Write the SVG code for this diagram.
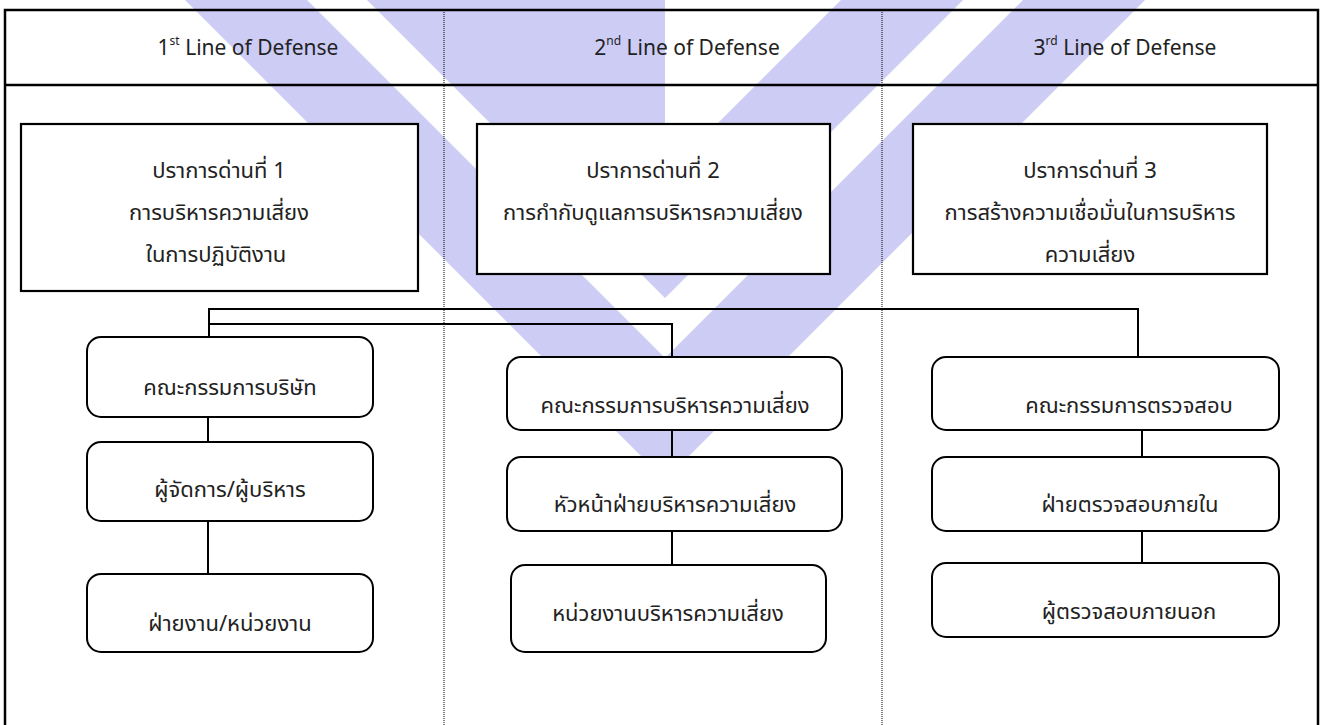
<svg xmlns="http://www.w3.org/2000/svg" width="1322" height="725" viewBox="0 0 1322 725">
<style>
.wm{fill:#CCCCF5;stroke:none}
.frame{fill:none;stroke:#000;stroke-width:2.5}
.div{stroke:#000;stroke-width:1;stroke-dasharray:1,1;fill:none}
.box{fill:#fff;stroke:#000;stroke-width:2.2}
.rbox{fill:#fff;stroke:#000;stroke-width:2}
.conn{fill:none;stroke:#000;stroke-width:2}
.hd{font-family:"Noto Sans","Open Sans",sans-serif;font-size:21px;fill:#222;text-anchor:middle}
.sup{font-size:12px}
.th{font-family:"Noto Sans Thai","Noto Sans","Tahoma",sans-serif;font-size:22px;fill:#222;text-anchor:middle}
</style>
<rect width="1322" height="725" fill="#fff"/>
<g id="watermark">
<polygon class="wm" points="175,-10 665,480 1155,-10 1033,-10 665,358 297,-10"/>
<polygon class="wm" points="357,-10 665,298 973,-10 851,-10 665,176 665,-10"/>
</g>
<g id="table">
<rect class="frame" x="5" y="10" width="1313" height="730"/>
<line class="frame" x1="5" y1="85" x2="1318" y2="85"/>
<line class="div" x1="444" y1="10" x2="444" y2="725"/>
<line class="div" x1="882" y1="10" x2="882" y2="725"/>
</g>
<g id="headers">
<text class="hd" x="248" y="55">1<tspan class="sup" dy="-10">st</tspan><tspan dy="10"> Line of Defense</tspan></text>
<text class="hd" x="687" y="55">2<tspan class="sup" dy="-10">nd</tspan><tspan dy="10"> Line of Defense</tspan></text>
<text class="hd" x="1125" y="55">3<tspan class="sup" dy="-10">rd</tspan><tspan dy="10"> Line of Defense</tspan></text>
</g>
<g id="connectors">
<polyline class="conn" points="209,337 209,309 1138,309 1138,357"/>
<polyline class="conn" points="209,324 672,324 672,357"/>
<line class="conn" x1="208" y1="417" x2="208" y2="442"/>
<line class="conn" x1="208" y1="521" x2="208" y2="574"/>
<line class="conn" x1="672" y1="430" x2="672" y2="457"/>
<line class="conn" x1="672" y1="531" x2="672" y2="565"/>
<line class="conn" x1="1142" y1="430" x2="1142" y2="457"/>
<line class="conn" x1="1142" y1="531" x2="1142" y2="563"/>
</g>
<g id="line1">
<rect class="box" x="21" y="124" width="397" height="167"/>
<text class="th" x="219" y="178">ปราการด่านที่ 1</text>
<text class="th" x="219" y="220">การบริหารความเสี่ยง</text>
<text class="th" x="216" y="262">ในการปฏิบัติงาน</text>
</g>
<g id="line2">
<rect class="box" x="477" y="124" width="353" height="150"/>
<text class="th" x="653" y="178">ปราการด่านที่ 2</text>
<text class="th" x="653" y="220">การกำกับดูแลการบริหารความเสี่ยง</text>
</g>
<g id="line3">
<rect class="box" x="913" y="124" width="354" height="150"/>
<text class="th" x="1090" y="178">ปราการด่านที่ 3</text>
<text class="th" x="1090" y="220">การสร้างความเชื่อมั่นในการบริหาร</text>
<text class="th" x="1090" y="262">ความเสี่ยง</text>
</g>
<g id="board">
<rect class="rbox" x="87" y="337" width="286" height="80" rx="14"/>
<text class="th" x="230" y="395">คณะกรรมการบริษัท</text>
</g>
<g id="managers">
<rect class="rbox" x="87" y="442" width="286" height="79" rx="14"/>
<text class="th" x="230" y="497">ผู้จัดการ/ผู้บริหาร</text>
</g>
<g id="units">
<rect class="rbox" x="87" y="574" width="286" height="78" rx="14"/>
<text class="th" x="230" y="631">ฝ่ายงาน/หน่วยงาน</text>
</g>
<g id="riskcommittee">
<rect class="rbox" x="507" y="357" width="335" height="73" rx="14"/>
<text class="th" x="675" y="413">คณะกรรมการบริหารความเสี่ยง</text>
</g>
<g id="riskhead">
<rect class="rbox" x="507" y="457" width="335" height="74" rx="14"/>
<text class="th" x="675" y="512">หัวหน้าฝ่ายบริหารความเสี่ยง</text>
</g>
<g id="riskunit">
<rect class="rbox" x="511" y="565" width="315" height="87" rx="14"/>
<text class="th" x="668" y="621">หน่วยงานบริหารความเสี่ยง</text>
</g>
<g id="auditcommittee">
<rect class="rbox" x="932" y="357" width="347" height="73" rx="14"/>
<text class="th" x="1129" y="413">คณะกรรมการตรวจสอบ</text>
</g>
<g id="internalaudit">
<rect class="rbox" x="932" y="457" width="347" height="74" rx="14"/>
<text class="th" x="1130" y="512">ฝ่ายตรวจสอบภายใน</text>
</g>
<g id="externalaudit">
<rect class="rbox" x="932" y="563" width="347" height="74" rx="14"/>
<text class="th" x="1129" y="619">ผู้ตรวจสอบภายนอก</text>
</g>
</svg>
